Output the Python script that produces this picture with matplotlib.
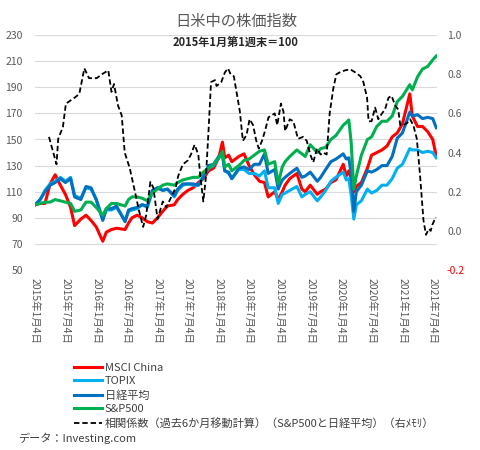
import matplotlib
matplotlib.use("Agg")
import matplotlib.pyplot as plt
import matplotlib.dates as mdates
from matplotlib.lines import Line2D
import pandas as pd

plt.rcParams['font.family'] = ['Noto Sans CJK JP', 'DejaVu Sans']

# ---------------- data ----------------
dates = ["2015-01-04", "2015-02-04", "2015-03-04", "2015-04-04", "2015-05-04", "2015-06-04",
         "2015-07-04", "2015-08-04", "2015-08-28", "2015-10-04", "2015-11-04", "2015-12-04",
         "2016-01-04", "2016-02-12", "2016-03-04", "2016-04-04", "2016-05-04", "2016-06-24",
         "2016-07-15", "2016-08-04", "2016-09-04", "2016-10-04", "2016-11-04", "2016-12-04",
         "2017-01-04", "2017-02-04", "2017-03-04", "2017-04-14", "2017-05-04", "2017-06-04",
         "2017-07-04", "2017-08-04", "2017-09-04", "2017-10-04", "2017-11-04", "2017-12-04",
         "2018-01-04", "2018-01-26", "2018-02-09", "2018-03-04", "2018-03-23", "2018-05-04",
         "2018-06-04", "2018-07-04", "2018-08-04", "2018-09-04", "2018-10-04", "2018-10-26",
         "2018-12-04", "2018-12-25", "2019-01-18", "2019-02-04", "2019-03-04", "2019-04-15",
         "2019-05-15", "2019-06-04", "2019-07-04", "2019-08-15", "2019-09-04", "2019-10-04",
         "2019-11-04", "2019-12-04", "2020-01-17", "2020-02-04", "2020-02-19", "2020-03-04",
         "2020-03-20", "2020-04-04", "2020-05-04", "2020-06-09", "2020-07-04", "2020-08-04",
         "2020-09-04", "2020-10-04", "2020-11-04", "2020-12-04", "2021-01-04", "2021-02-17",
         "2021-03-04", "2021-04-04", "2021-05-04", "2021-06-04", "2021-07-04", "2021-07-25"]

msci_china = [100, 101, 101, 116, 123, 115, 108, 98, 84, 89, 92, 88,
              83, 72, 79, 81, 82, 81, 86, 90, 92, 90, 87, 86,
              90, 95, 99, 100, 104, 108, 111, 113, 117, 120, 126, 128,
              136, 148, 136, 138, 133, 137, 139, 130, 123, 118, 117, 106,
              110, 104, 110, 115, 120, 124, 112, 110, 115, 108, 110, 112,
              117, 119, 131, 122, 126, 120, 110, 114, 117, 128, 138, 140,
              142, 145, 152, 155, 162, 185, 168, 160, 160, 156, 150, 137]

topix = [100, 104, 111, 116, 118, 121, 118, 121, 107, 105, 113, 112,
         104, 89, 96, 96, 98, 88, 95, 96, 97, 100, 98, 110,
         113, 111, 112, 106, 111, 115, 116, 115, 115, 122, 128, 130,
         136, 138, 126, 124, 120, 127, 127, 124, 124, 122, 126, 113,
         113, 101, 108, 109, 111, 114, 106, 108, 110, 103, 106, 111,
         118, 121, 125, 119, 120, 108, 89, 100, 103, 112, 109, 111,
         115, 115, 120, 128, 131, 143, 142, 142, 140, 141, 140, 136]

nikkei = [100, 104, 110, 115, 117, 120, 117, 120, 106, 104, 114, 113,
          104, 88, 97, 97, 99, 87, 96, 97, 98, 100, 99, 111,
          113, 111, 112, 107, 112, 116, 116, 116, 115, 121, 130, 131,
          137, 139, 126, 125, 120, 128, 129, 127, 131, 131, 139, 124,
          127, 112, 119, 121, 124, 128, 121, 122, 125, 118, 121, 127,
          133, 135, 139, 135, 136, 124, 95, 110, 115, 126, 125, 127,
          130, 130, 137, 151, 155, 171, 168, 169, 166, 167, 166, 159]

sp500 = [100, 101, 102, 102, 104, 103, 102, 101, 95, 96, 102, 102,
         98, 92, 97, 101, 101, 99, 104, 106, 106, 105, 103, 109,
         112, 115, 116, 115, 117, 119, 120, 121, 121, 125, 128, 131,
         136, 141, 129, 131, 126, 130, 134, 135, 138, 141, 142, 131,
         133, 116, 129, 133, 137, 142, 139, 137, 146, 140, 143, 144,
         150, 153, 161, 163, 165, 148, 112, 122, 138, 150, 152, 160,
         164, 164, 168, 179, 183, 192, 188, 198, 204, 206, 211, 214]

corr_dates = ["2015-03-28", "2015-05-12", "2015-05-22", "2015-06-19", "2015-07-07", "2015-08-28",
              "2015-09-25", "2015-10-25", "2015-11-22", "2016-01-07", "2016-02-07", "2016-03-16",
              "2016-04-04", "2016-04-19", "2016-05-13", "2016-06-04", "2016-06-22", "2016-07-22",
              "2016-08-22", "2016-09-16", "2016-10-10", "2016-10-28", "2016-11-22", "2016-12-10",
              "2017-01-04", "2017-02-04", "2017-02-25", "2017-03-25", "2017-04-22", "2017-05-07",
              "2017-06-04", "2017-07-04", "2017-07-22", "2017-08-13", "2017-09-04", "2017-09-16",
              "2017-10-04", "2017-10-19", "2017-11-04", "2017-11-19", "2017-12-13", "2017-12-22",
              "2018-01-19", "2018-02-10", "2018-02-28", "2018-03-16", "2018-04-04", "2018-05-10",
              "2018-05-28", "2018-06-19", "2018-07-07", "2018-07-28", "2018-08-16", "2018-08-31",
              "2018-09-19", "2018-10-07", "2018-10-28", "2018-12-04", "2018-12-19", "2019-01-10",
              "2019-01-25", "2019-02-04", "2019-03-04", "2019-03-25", "2019-04-22", "2019-05-22",
              "2019-06-13", "2019-07-04", "2019-07-22", "2019-08-13", "2019-09-04", "2019-09-19",
              "2019-10-10", "2019-10-28", "2019-11-19", "2019-12-07", "2019-12-28", "2020-01-28",
              "2020-02-28", "2020-03-28", "2020-04-28", "2020-05-16", "2020-06-07", "2020-06-16",
              "2020-07-04", "2020-07-25", "2020-08-13", "2020-09-04", "2020-09-22", "2020-10-13",
              "2020-10-31", "2020-11-22", "2020-12-10", "2020-12-22", "2021-01-10", "2021-01-31",
              "2021-02-19", "2021-03-10", "2021-03-31", "2021-04-19", "2021-05-10", "2021-05-25",
              "2021-06-10", "2021-06-22", "2021-07-01", "2021-07-22"]

corr = [0.48, 0.34, 0.47, 0.53, 0.65, 0.68,
        0.70, 0.83, 0.78, 0.78, 0.80, 0.82,
        0.71, 0.75, 0.64, 0.59, 0.40, 0.32,
        0.20, 0.10, 0.02, 0.08, 0.25, 0.22,
        0.06, 0.15, 0.12, 0.17, 0.22, 0.28,
        0.34, 0.36, 0.39, 0.44, 0.39, 0.28,
        0.15, 0.27, 0.51, 0.76, 0.77, 0.74,
        0.76, 0.81, 0.83, 0.80, 0.79, 0.61,
        0.46, 0.49, 0.57, 0.54, 0.46, 0.42,
        0.46, 0.51, 0.58, 0.60, 0.54, 0.65,
        0.61, 0.51, 0.57, 0.56, 0.47, 0.48,
        0.46, 0.39, 0.35, 0.42, 0.39, 0.40,
        0.39, 0.60, 0.73, 0.80, 0.81, 0.82,
        0.825, 0.81, 0.79, 0.76, 0.68, 0.56,
        0.56, 0.63, 0.57, 0.60, 0.62, 0.68,
        0.69, 0.64, 0.62, 0.54, 0.54, 0.55,
        0.57, 0.54, 0.47, 0.285, 0.05, -0.02,
        0.01, 0.00, 0.03, 0.07]

left_ticks = [50, 70, 90, 110, 130, 150, 170, 190, 210, 230]
right_ticks = [-0.2, 0.0, 0.2, 0.4, 0.6, 0.8, 1.0]
x_ticks = ["2015-01-04", "2015-07-04", "2016-01-04", "2016-07-04", "2017-01-04", "2017-07-04",
           "2018-01-04", "2018-07-04", "2019-01-04", "2019-07-04", "2020-01-04", "2020-07-04",
           "2021-01-04", "2021-07-04"]

labels = ["MSCI China", "TOPIX", "日経平均", "S&P500",
          "相関係数（過去6か月移動計算）（S&P500と日経平均）（右ﾒﾓﾘ）"]
colors = ["#FF0000", "#00B0F0", "#0070C0", "#00B050", "#000000"]

# ---------------- figure ----------------
fig = plt.figure(figsize=(4.8, 4.5), dpi=100)
ax = fig.add_axes([0.072, 0.40, 0.839, 0.522])
ax2 = ax.twinx()

d = pd.to_datetime(dates)
cd = pd.to_datetime(corr_dates)
for vals, col in zip([msci_china, topix, nikkei, sp500], colors[:4]):
    ax.plot(d, vals, color=col, lw=2.2, solid_joinstyle='round')
ax2.plot(cd, corr, color="black", lw=1.3, linestyle=(0, (3, 1.6)))

ax.set_ylim(50, 230)
ax.set_yticks(left_ticks)
ax2.set_ylim(-0.2, 1.0)
ax2.set_yticks(right_ticks)
ax2.set_yticklabels([f"{v:.1f}" for v in right_ticks])
for lbl, v in zip(ax2.get_yticklabels(), right_ticks):
    lbl.set_color("#FF0000" if v < 0 else "#595959")

xt = pd.to_datetime(x_ticks)
ax.set_xlim(pd.Timestamp("2015-01-01"), pd.Timestamp("2021-07-31"))
ax.set_xticks(xt)
ax.set_xticklabels([f"{t.year}年{t.month}月{t.day}日" for t in xt], rotation=-90,
                   fontsize=7.5, color="#595959", ha="center", va="top")

ax.grid(axis="y", color="#D9D9D9", lw=0.8)
ax.set_axisbelow(True)
for a in (ax, ax2):
    for s in a.spines.values():
        s.set_visible(False)
ax.tick_params(axis="y", length=0, pad=8.5, labelsize=7.5, labelcolor="#595959")
ax.tick_params(axis="x", length=0, pad=5.5)
ax2.tick_params(axis="y", length=0, pad=7, labelsize=7.5)

fig.text(0.492, 0.953, "日米中の株価指数", ha="center", va="center", fontsize=11, color="#595959")
fig.text(0.49, 0.904, "2015年1月第1週末＝100", ha="center", va="center", fontsize=8,
         fontweight="bold", color="#262626")

handles = [Line2D([], [], color=c, lw=2.2) for c in colors[:4]]
handles.append(Line2D([], [], color="black", lw=1.3, linestyle=(0, (3, 1.6))))
fig.legend(handles, labels, loc="upper left", bbox_to_anchor=(0.155, 0.194),
           bbox_transform=fig.transFigure, frameon=False, fontsize=8,
           handlelength=2.5, handletextpad=0.25, labelspacing=0.33,
           labelcolor="#404040", borderaxespad=0, borderpad=0)

fig.text(0.037, 0.027, "データ：Investing.com", ha="left", va="center", fontsize=8, color="#404040")

fig.savefig("out.png", dpi=100)
